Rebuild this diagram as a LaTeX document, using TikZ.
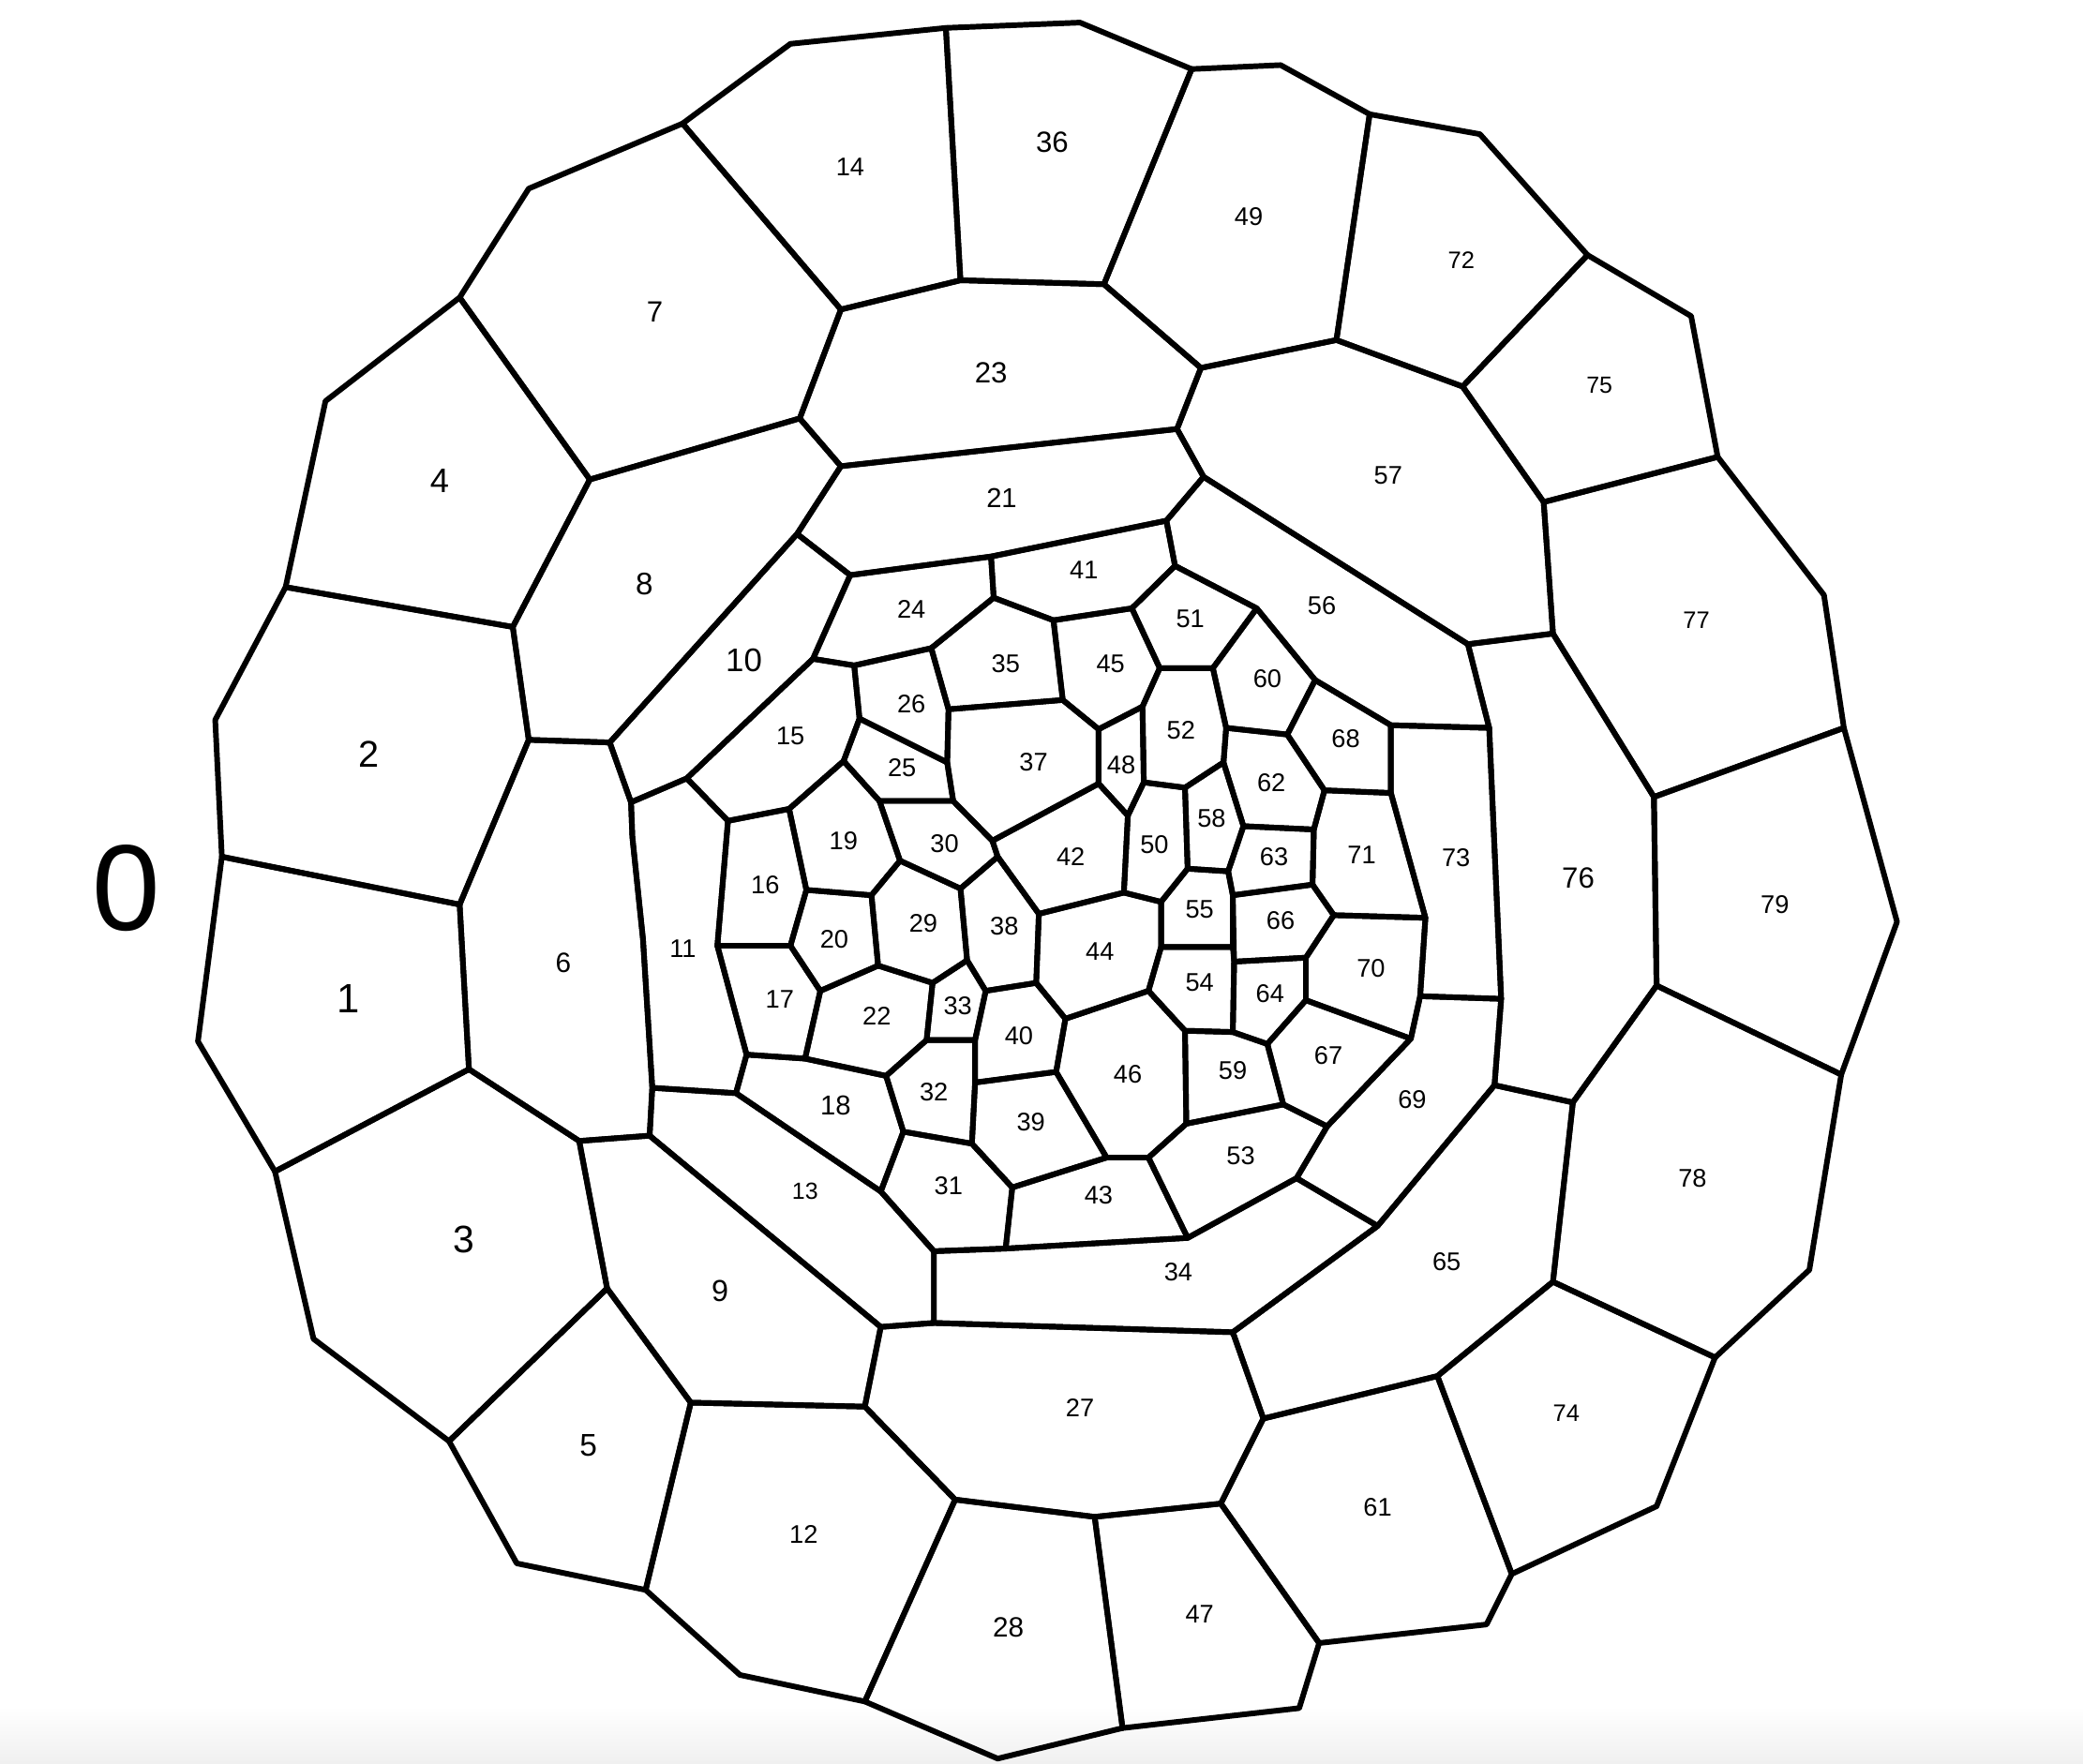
\documentclass[tikz,border=0pt]{standalone}
\usepackage{fontspec}
\setmainfont{Liberation Sans}
\begin{document}
\begin{tikzpicture}[x=0.5pt,y=-0.5pt,
  cell/.style={draw=black,line width=2.1pt,line join=round},
  lbl/.style={inner sep=0pt,font=\fontsize{9.6}{11}\selectfont},
  sz/.style={font=\fontsize{#1}{#1}\selectfont}]
\useasboundingbox (0,0) rectangle (1568,1328);
\fill[white] (0,0) rectangle (1568,1328);
\shade[top color=white,bottom color=black!6] (0,1285) rectangle (1568,1328);
\foreach \n/\x/\y in {
 A1/513.8/93, A2/398/142, A3/346/224, A4/245/302, A5/215/442, A6/444/361, A7/386/472,
 B3/162/542, B4/167/645, B5/346/681, B6/398/557, B7/459/559, B8/475/604, B9/517/586,
 B10/353/805, B11/149/784, B12/207/882,
 P1/476/630, P2/484/707, P3/491/819,
 C2/236/1008, C3/338/1085, C4/457/970, C5/436/859, C6/489/855, C7/520/1056, C8/389/1177, C9/486/1197,
 D2/651/1059, D3/663/999, D4/703/996, D5/703/942, D6/928/1003, D7/951/1068, D8/919/1132,
 D9/824/1142, D10/719/1129, D11/651/1281, D12/557/1261, D13/751/1324, D14/845/1301,
 D15/978/1286, D16/993/1237, D17/976/887, D18/1037/923,
 E2/595/33, E3/712/21, E4/813/17, E5/897/52, E6/964/49, E7/1031/86, E8/633/233,
 E9/723/211, E10/831/214, E11/904/277, E12/1006/256, E13/602/315, E14/633/351,
 E15/886/323, E16/906/359, E17/878/392, E18/600/402, E19/640/433, E20/746/419,
 F2/1114/101, F3/1195/192, F4/1273/238, F5/1293/344, F6/1373/448, F8/1101/291,
 F9/1162/378, F10/1169/477, F11/1105/485,
 G3/1121/548, G4/1047/546, G5/1047/597, G6/1073/691, G7/1130/752, G8/1069/750,
 G10/1125/817, G11/1184/830, G12/1247/742, G13/1245/600, G14/1388/548, G16/1428/694, G17/1386/809,
 H1/1169/965, H3/1362/956, H4/1291/1022, H5/1247/1134, H6/1138/1185, H7/1119/1223, H9/1082/1036,
 N1/884.5/426, N2/946/458, N3/990/512, N4/1062/782, N5/999/848, N6/894/932, N7/757/940,
 N8/663/897, N9/554/823, N10/562/794, N11/540/712, N12/548/618, N13/612/496, N14/643/501,
 N15/748/450, N16/701/488, N17/852/458, N18/793/467, N19/800/527, N20/714/534, N21/713/574,
 N22/647/541, N23/635/573, N24/594/609, N25/717.5/603, N26/662/603, N27/827/549, N28/827/590,
 N29/747/633, N30/873/503, N31/860/532, N32/913/503, N33/923/548, N34/921/574, N35/892/593,
 N36/861/589, N37/969/553, N38/997/595, N39/989/624.5, N40/936/622, N41/849/614, N42/846/672,
 N43/782/688, N44/751/645, N45/874/679, N46/894/654, N47/924.5/656, N48/928/674, N49/928/713,
 N50/874/713, N51/929/724, N52/928/777, N53/988/666, N54/1004/689, N55/983/721, N56/983/753,
 N57/954/786, N58/892/776, N59/864.5/746, N60/802/767, N61/780/740, N62/742/746, N63/728/723,
 N64/723/669, N65/677.5/648, N66/656/674, N67/607/670, N68/595/712, N69/661/727, N70/617.5/746,
 N71/702/740, N72/606/797, N73/697.5/783, N74/667/810, N75/734/783, N76/680/852, N77/734/815,
 N78/731.6/861, N79/795/807, N80/833/871.5, N81/762/894, N82/893/846, N83/864.5/871.5, N84/966/831.5}
 {\coordinate (\n) at (\x,\y);}
% cells
\draw[cell] (B4)--(B5)--(B10)--(B12)--(B11)--cycle;
\draw[cell] (B3)--(A5)--(A7)--(B6)--(B5)--(B4)--cycle;
\draw[cell] (B12)--(B10)--(C5)--(C4)--(C3)--(C2)--cycle;
\draw[cell] (A5)--(A4)--(A3)--(A6)--(A7)--cycle;
\draw[cell] (C3)--(C4)--(C7)--(C9)--(C8)--cycle;
\draw[cell] (B6)--(B7)--(B8)--(P1)--(P2)--(P3)--(C6)--(C5)--(B10)--(B5)--cycle;
\draw[cell] (A3)--(A2)--(A1)--(E8)--(E13)--(A6)--cycle;
\draw[cell] (A6)--(E13)--(E14)--(E18)--(B7)--(B6)--(A7)--cycle;
\draw[cell] (C5)--(C6)--(D3)--(D2)--(C7)--(C4)--cycle;
\draw[cell] (E18)--(E19)--(N13)--(B9)--(B8)--(B7)--cycle;
\draw[cell] (B8)--(B9)--(N12)--(N11)--(N10)--(N9)--(P3)--(P2)--(P1)--cycle;
\draw[cell] (C9)--(C7)--(D2)--(D10)--(D11)--(D12)--cycle;
\draw[cell] (P3)--(N9)--(N8)--(D5)--(D4)--(D3)--(C6)--cycle;
\draw[cell] (E8)--(A1)--(E2)--(E3)--(E9)--cycle;
\draw[cell] (B9)--(N13)--(N14)--(N22)--(N23)--(N24)--(N12)--cycle;
\draw[cell] (N12)--(N24)--(N67)--(N68)--(N11)--cycle;
\draw[cell] (N11)--(N68)--(N70)--(N72)--(N10)--cycle;
\draw[cell] (N9)--(N10)--(N72)--(N74)--(N76)--(N8)--cycle;
\draw[cell] (N23)--(N26)--(N65)--(N66)--(N67)--(N24)--cycle;
\draw[cell] (N67)--(N66)--(N69)--(N70)--(N68)--cycle;
\draw[cell] (E14)--(E15)--(E16)--(E17)--(E20)--(E19)--(E18)--cycle;
\draw[cell] (N70)--(N69)--(N71)--(N73)--(N74)--(N72)--cycle;
\draw[cell] (E8)--(E9)--(E10)--(E11)--(E15)--(E14)--(E13)--cycle;
\draw[cell] (E19)--(E20)--(N15)--(N16)--(N14)--(N13)--cycle;
\draw[cell] (N22)--(N21)--(N25)--(N26)--(N23)--cycle;
\draw[cell] (N14)--(N16)--(N20)--(N21)--(N22)--cycle;
\draw[cell] (D3)--(D4)--(D6)--(D7)--(D8)--(D9)--(D10)--(D2)--cycle;
\draw[cell] (D10)--(D9)--(D14)--(D13)--(D11)--cycle;
\draw[cell] (N65)--(N64)--(N63)--(N71)--(N69)--(N66)--cycle;
\draw[cell] (N26)--(N25)--(N29)--(N44)--(N64)--(N65)--cycle;
\draw[cell] (N76)--(N78)--(N81)--(N7)--(D5)--(N8)--cycle;
\draw[cell] (N74)--(N73)--(N75)--(N77)--(N78)--(N76)--cycle;
\draw[cell] (N71)--(N63)--(N62)--(N75)--(N73)--cycle;
\draw[cell] (D5)--(N7)--(N6)--(D17)--(D18)--(D6)--(D4)--cycle;
\draw[cell] (N15)--(N18)--(N19)--(N20)--(N16)--cycle;
\draw[cell] (E9)--(E3)--(E4)--(E5)--(E10)--cycle;
\draw[cell] (N20)--(N19)--(N27)--(N28)--(N29)--(N25)--(N21)--cycle;
\draw[cell] (N44)--(N43)--(N61)--(N62)--(N63)--(N64)--cycle;
\draw[cell] (N77)--(N79)--(N80)--(N81)--(N78)--cycle;
\draw[cell] (N62)--(N61)--(N60)--(N79)--(N77)--(N75)--cycle;
\draw[cell] (E20)--(E17)--(N1)--(N17)--(N18)--(N15)--cycle;
\draw[cell] (N28)--(N41)--(N42)--(N43)--(N44)--(N29)--cycle;
\draw[cell] (N81)--(N80)--(N83)--(N6)--(N7)--cycle;
\draw[cell] (N43)--(N42)--(N45)--(N50)--(N59)--(N60)--(N61)--cycle;
\draw[cell] (N18)--(N17)--(N30)--(N31)--(N27)--(N19)--cycle;
\draw[cell] (N60)--(N59)--(N58)--(N82)--(N83)--(N80)--(N79)--cycle;
\draw[cell] (D9)--(D8)--(D16)--(D15)--(D14)--cycle;
\draw[cell] (N27)--(N31)--(N36)--(N41)--(N28)--cycle;
\draw[cell] (E10)--(E5)--(E6)--(E7)--(E12)--(E11)--cycle;
\draw[cell] (N36)--(N35)--(N46)--(N45)--(N42)--(N41)--cycle;
\draw[cell] (N17)--(N1)--(N2)--(N32)--(N30)--cycle;
\draw[cell] (N30)--(N32)--(N33)--(N34)--(N35)--(N36)--(N31)--cycle;
\draw[cell] (N83)--(N82)--(N84)--(N5)--(D17)--(N6)--cycle;
\draw[cell] (N50)--(N49)--(N51)--(N52)--(N58)--(N59)--cycle;
\draw[cell] (N46)--(N47)--(N48)--(N49)--(N50)--(N45)--cycle;
\draw[cell] (E16)--(F11)--(G3)--(G4)--(N3)--(N2)--(N1)--(E17)--cycle;
\draw[cell] (E11)--(E12)--(F8)--(F9)--(F10)--(F11)--(E16)--(E15)--cycle;
\draw[cell] (N35)--(N34)--(N40)--(N47)--(N46)--cycle;
\draw[cell] (N58)--(N52)--(N57)--(N84)--(N82)--cycle;
\draw[cell] (N32)--(N2)--(N3)--(N37)--(N33)--cycle;
\draw[cell] (D8)--(D7)--(H9)--(H6)--(H7)--(D16)--cycle;
\draw[cell] (N33)--(N37)--(N38)--(N39)--(N40)--(N34)--cycle;
\draw[cell] (N40)--(N39)--(N53)--(N48)--(N47)--cycle;
\draw[cell] (N51)--(N55)--(N56)--(N57)--(N52)--cycle;
\draw[cell] (D6)--(D18)--(G10)--(G11)--(H1)--(H9)--(D7)--cycle;
\draw[cell] (N48)--(N53)--(N54)--(N55)--(N51)--cycle;
\draw[cell] (N57)--(N56)--(N4)--(N5)--(N84)--cycle;
\draw[cell] (N3)--(G4)--(G5)--(N38)--(N37)--cycle;
\draw[cell] (D17)--(N5)--(N4)--(G8)--(G7)--(G10)--(D18)--cycle;
\draw[cell] (N54)--(G6)--(G8)--(N4)--(N56)--(N55)--cycle;
\draw[cell] (N38)--(G5)--(G6)--(N54)--(N53)--(N39)--cycle;
\draw[cell] (E12)--(E7)--(F2)--(F3)--(F8)--cycle;
\draw[cell] (G4)--(G3)--(G7)--(G8)--(G6)--(G5)--cycle;
\draw[cell] (H9)--(H1)--(H4)--(H5)--(H6)--cycle;
\draw[cell] (F8)--(F3)--(F4)--(F5)--(F9)--cycle;
\draw[cell] (F11)--(F10)--(G13)--(G12)--(G11)--(G10)--(G7)--(G3)--cycle;
\draw[cell] (G13)--(F10)--(F9)--(F5)--(F6)--(G14)--cycle;
\draw[cell] (H1)--(G11)--(G12)--(G17)--(H3)--(H4)--cycle;
\draw[cell] (G12)--(G13)--(G14)--(G16)--(G17)--cycle;
% labels
\node[lbl,sz=46] (t0) at (95,669) {0};
\node[lbl,sz=15.4] (t1) at (262,752) {1};
\node[lbl,sz=14] (t2) at (278,568) {2};
\node[lbl,sz=14.4] (t3) at (349,933) {3};
\node[lbl,sz=12.8] (t4) at (331,362) {4};
\node[lbl,sz=11.8] (t5) at (443,1088) {5};
\node[lbl,sz=10.5] (t6) at (424,725) {6};
\node[lbl,sz=11] (t7) at (493,235) {7};
\node[lbl,sz=11.7] (t8) at (485,440) {8};
\node[lbl,sz=11.4] (t9) at (542,972) {9};
\node[lbl,sz=12.3] (t10) at (560,497) {10};
\node[lbl] (t11) at (514,714) {11};
\node[lbl] (t12) at (605,1155) {12};
\node[lbl,sz=8.8] (t13) at (606,897) {13};
\node[lbl] (t14) at (640,126) {14};
\node[lbl] (t15) at (595,554) {15};
\node[lbl] (t16) at (576,666) {16};
\node[lbl] (t17) at (587,752) {17};
\node[lbl,sz=10.3] (t18) at (629,832) {18};
\node[lbl] (t19) at (635,633) {19};
\node[lbl] (t20) at (628,707) {20};
\node[lbl,sz=10.3] (t21) at (754,375) {21};
\node[lbl] (t22) at (660,765) {22};
\node[lbl,sz=11] (t23) at (746,281) {23};
\node[lbl] (t24) at (686,459) {24};
\node[lbl] (t25) at (679,578) {25};
\node[lbl] (t26) at (686,530) {26};
\node[lbl] (t27) at (813,1060) {27};
\node[lbl,sz=10.5] (t28) at (759,1225) {28};
\node[lbl] (t29) at (695,695) {29};
\node[lbl] (t30) at (711,635) {30};
\node[lbl] (t31) at (714,893) {31};
\node[lbl] (t32) at (703,822) {32};
\node[lbl] (t33) at (721,757) {33};
\node[lbl] (t34) at (887,958) {34};
\node[lbl] (t35) at (757,500) {35};
\node[lbl,sz=11] (t36) at (792,107) {36};
\node[lbl] (t37) at (778,574) {37};
\node[lbl] (t38) at (756,697) {38};
\node[lbl] (t39) at (776,845) {39};
\node[lbl] (t40) at (767,780) {40};
\node[lbl] (t41) at (816,429) {41};
\node[lbl] (t42) at (806,645) {42};
\node[lbl] (t43) at (827,900) {43};
\node[lbl] (t44) at (828,716) {44};
\node[lbl] (t45) at (836,500) {45};
\node[lbl] (t46) at (849,809) {46};
\node[lbl] (t47) at (903,1215) {47};
\node[lbl] (t48) at (844,576) {48};
\node[lbl] (t49) at (940,163) {49};
\node[lbl] (t50) at (869,636) {50};
\node[lbl] (t51) at (896,466) {51};
\node[lbl] (t52) at (889,550) {52};
\node[lbl] (t53) at (934,870) {53};
\node[lbl] (t54) at (903,740) {54};
\node[lbl] (t55) at (903,685) {55};
\node[lbl] (t56) at (995,456) {56};
\node[lbl] (t57) at (1045,358) {57};
\node[lbl] (t58) at (912,616) {58};
\node[lbl] (t59) at (928,806) {59};
\node[lbl] (t60) at (954,511) {60};
\node[lbl] (t61) at (1037,1135) {61};
\node[lbl] (t62) at (957,589) {62};
\node[lbl] (t63) at (959,645) {63};
\node[lbl] (t64) at (956,748) {64};
\node[lbl] (t65) at (1089,950) {65};
\node[lbl] (t66) at (964,693) {66};
\node[lbl] (t67) at (1000,795) {67};
\node[lbl] (t68) at (1013,556) {68};
\node[lbl] (t69) at (1063,828) {69};
\node[lbl] (t70) at (1032,729) {70};
\node[lbl] (t71) at (1025,644) {71};
\node[lbl,sz=9] (t72) at (1100,196) {72};
\node[lbl] (t73) at (1096,646) {73};
\node[lbl,sz=9] (t74) at (1179,1064) {74};
\node[lbl,sz=8.8] (t75) at (1204,290) {75};
\node[lbl,sz=11] (t76) at (1188,661) {76};
\node[lbl,sz=9] (t77) at (1277,467) {77};
\node[lbl] (t78) at (1274,887) {78};
\node[lbl] (t79) at (1336,681) {79};
\end{tikzpicture}
\end{document}
